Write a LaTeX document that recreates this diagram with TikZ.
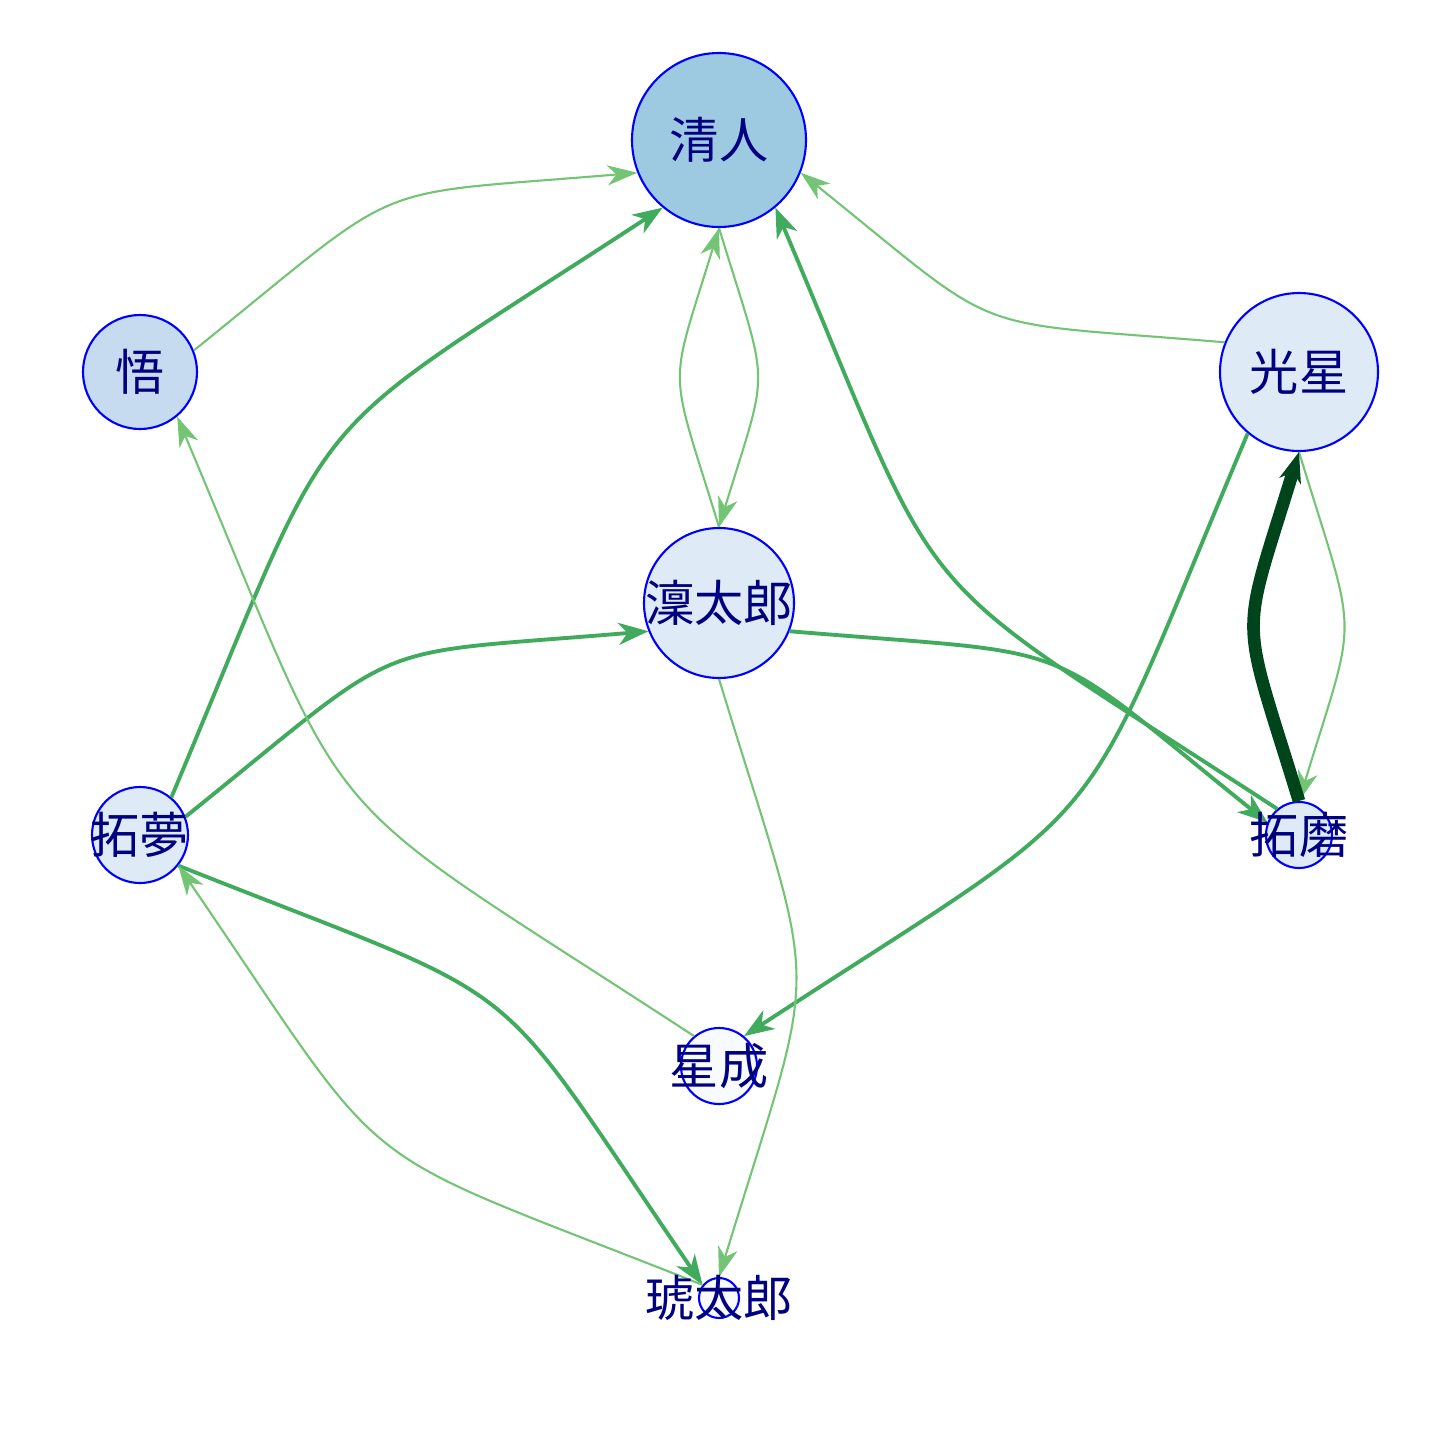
\documentclass[tikz,border=0pt]{standalone}
\usepackage{fontspec}
\newfontfamily\cjk{Noto Sans CJK JP}
\usetikzlibrary{arrows.meta,calc}

\definecolor{navytext}{RGB}{0,0,128}
\definecolor{fillA}{HTML}{9ECAE1}
\definecolor{fillB}{HTML}{C6DBEF}
\definecolor{fillC}{HTML}{DEEBF7}
\definecolor{fillD}{HTML}{F7FBFF}
\definecolor{greenA}{HTML}{74C476}
\definecolor{greenB}{HTML}{41AB5D}
\definecolor{greenC}{HTML}{00441B}

\tikzset{
	vertex/.style={circle, draw=blue, line width=0.6pt, inner sep=0pt},
	vlabel/.style={text=navytext, inner sep=0pt, font=\cjk\fontsize{14}{14}\selectfont},
	curve/.style={bend left=17, looseness=1.5},
	weakedge/.style={draw=greenA, line width=0.6pt, -{Stealth[length=3mm, width=2mm, inset=0.9mm]}},
	midedge/.style={draw=greenB, line width=1.1pt, -{Stealth[length=3mm, width=2.2mm, inset=0.9mm]}},
	strongedge/.style={draw=greenC, line width=3.6pt, -{Stealth[length=3mm, width=2.2mm, inset=0.9mm]}}
}

\begin{document}
\begin{tikzpicture}

		\useasboundingbox (0,0) rectangle (14.4,-14.4);

		% Sommets (cercles)
		\node[vertex, fill=fillA, minimum size=1.74cm] (kiyoto) at (7.19, -1.40) {};
		\node[vertex, fill=fillB, minimum size=1.14cm] (satoru) at (1.40, -3.72) {};
		\node[vertex, fill=fillC, minimum size=1.58cm] (kosei) at (12.99, -3.72) {};
		\node[vertex, fill=fillC, minimum size=1.50cm] (rintaro) at (7.19, -6.03) {};
		\node[vertex, fill=fillC, minimum size=0.96cm] (takumu) at (1.40, -8.35) {};
		\node[vertex, fill=fillC, minimum size=0.66cm] (takuma) at (12.99, -8.35) {};
		\node[vertex, fill=fillD, minimum size=0.76cm] (sena) at (7.19, -10.66) {};
		\node[vertex, fill=fillD, minimum size=0.40cm] (kotaro) at (7.19, -12.98) {};

		% Arcs vers kiyoto (bords pris sur la droite entre les centres)
		\draw[weakedge] ($(satoru)!5.8mm!(kiyoto)$) to[curve] ($(kiyoto)!8.8mm!(satoru)$);
		\draw[midedge] ($(takumu)!4.9mm!(kiyoto)$) to[curve] ($(kiyoto)!8.8mm!(takumu)$);
		\draw[weakedge] ($(rintaro)!7.6mm!(kiyoto)$) to[curve] ($(kiyoto)!8.8mm!(rintaro)$);
		\draw[weakedge] ($(kosei)!8mm!(kiyoto)$) to[curve] ($(kiyoto)!8.8mm!(kosei)$);
		\draw[midedge] ($(takuma)!3.4mm!(kiyoto)$) to[curve] ($(kiyoto)!8.8mm!(takuma)$);

		% Arcs depuis kiyoto et kosei
		\draw[weakedge] ($(kiyoto)!8.8mm!(rintaro)$) to[curve] ($(rintaro)!7.6mm!(kiyoto)$);
		\draw[midedge] ($(kosei)!8mm!(sena)$) to[curve] ($(sena)!3.9mm!(kosei)$);
		\draw[weakedge] ($(kosei)!8mm!(takuma)$) to[curve] ($(takuma)!3.4mm!(kosei)$);
		\draw[strongedge] ($(takuma)!3.4mm!(kosei)$) to[curve] ($(kosei)!8mm!(takuma)$);

		% Arcs depuis rintaro et takumu
		\draw[midedge] ($(rintaro)!7.6mm!(takuma)$) to[curve] ($(takuma)!3.4mm!(rintaro)$);
		\draw[weakedge] ($(rintaro)!7.6mm!(kotaro)$) to[curve] ($(kotaro)!2.1mm!(rintaro)$);
		\draw[midedge] ($(takumu)!4.9mm!(rintaro)$) to[curve] ($(rintaro)!7.6mm!(takumu)$);
		\draw[midedge] ($(takumu)!4.9mm!(kotaro)$) to[curve] ($(kotaro)!2.1mm!(takumu)$);

		% Arcs restants
		\draw[weakedge] ($(sena)!3.9mm!(satoru)$) to[curve] ($(satoru)!5.8mm!(sena)$);
		\draw[weakedge] ($(kotaro)!2.1mm!(takumu)$) to[curve] ($(takumu)!4.9mm!(kotaro)$);

		% Noms
		\node[vlabel] (kiyoto-t) at (kiyoto) {清人};
		\node[vlabel] (satoru-t) at (satoru) {悟};
		\node[vlabel] (kosei-t) at (kosei) {光星};
		\node[vlabel] (rintaro-t) at (rintaro) {澟太郎};
		\node[vlabel] (takumu-t) at (takumu) {拓夢};
		\node[vlabel] (takuma-t) at (takuma) {拓磨};
		\node[vlabel] (sena-t) at (sena) {星成};
		\node[vlabel] (kotaro-t) at (kotaro) {琥太郎};

	\end{tikzpicture}
\end{document}
